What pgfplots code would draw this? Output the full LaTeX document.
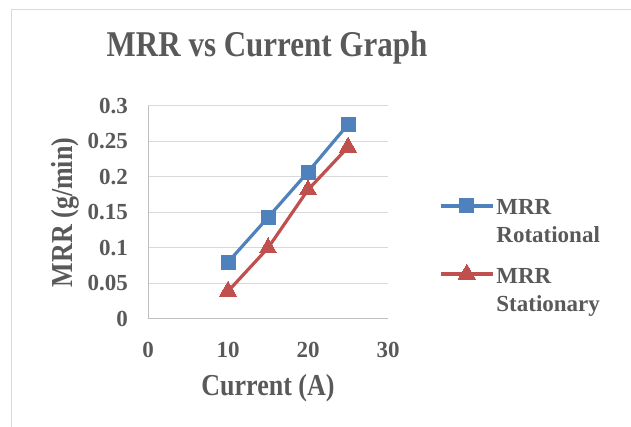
\documentclass[border=0pt]{standalone}
\usepackage{pgfplots}
\pgfplotsset{compat=1.18}
\usepackage{fontspec}
\setmainfont{Liberation Serif}

\definecolor{txtgray}{HTML}{595959}
\definecolor{gridgray}{HTML}{D9D9D9}
\definecolor{axisgray}{HTML}{BFBFBF}
\definecolor{framegray}{HTML}{D9D9D9}
\definecolor{rotblue}{HTML}{4F81BD}
\definecolor{statred}{HTML}{C0504D}

\pgfplotstableread{
x y
10 0.080
15 0.143
20 0.207
25 0.274
}\rotational
\pgfplotstableread{
x y
10 0.039
15 0.100
20 0.182
25 0.242
}\stationary

\newcommand{\tall}[1]{\scalebox{1}[1.17]{#1}}
\newcommand{\twoline}[2]{\begin{tabular}[t]{@{}l@{}}\textbf{#1}\\\textbf{#2}\end{tabular}}

\begin{document}
\begin{tikzpicture}[x=1pt,y=1pt]
\useasboundingbox (0,0) rectangle (631,427);
% outer chart frame
\draw[framegray, line width=1.2pt] (11.5,0) -- (11.5,417.5) -- (631,417.5);
\begin{axis}[
  at={(148pt,108pt)}, anchor=south west,
  scale only axis, width=240pt, height=213pt,
  xmin=0, xmax=30, ymin=0, ymax=0.3,
  clip=false,
  axis x line*=bottom, axis y line*=left,
  axis line style={draw=axisgray, line width=1pt, -},
  xtick={0,10,20,30},
  ytick={0,0.05,0.1,0.15,0.2,0.25,0.3},
  yticklabels={0,0.05,0.1,0.15,0.2,0.25,0.3},
  major tick length=0pt,
  ymajorgrids, grid style={gridgray, line width=1pt},
  /pgf/number format/assume math mode=true,
  tick label style={font=\fontsize{23}{26}\selectfont\bfseries, text=txtgray},
  yticklabel style={anchor=east, inner sep=0pt, xshift=-20pt},
  xticklabel style={anchor=center, inner sep=0pt, yshift=-31pt},
  title={\tall{MRR vs Current Graph}},
  title style={font=\fontsize{31}{36}\selectfont\bfseries, text=txtgray,
    at={(rel axis cs:0.496,1.202)}, anchor=base, inner sep=0pt},
  xlabel={\tall{Current (A)}},
  xlabel style={font=\fontsize{26}{30}\selectfont\bfseries, text=txtgray,
    at={(rel axis cs:0.5,-0.357)}, anchor=base, inner sep=0pt},
  ylabel={\tall{MRR (g/min)}},
  ylabel style={font=\fontsize{26}{30}\selectfont\bfseries, text=txtgray,
    at={(rel axis cs:-0.346,0.5)}, anchor=center, inner sep=0pt},
  legend style={at={(rel axis cs:1.2,0.6)}, anchor=north west,
    draw=none, fill=none, row sep=43pt,
    font=\fontsize{23}{28}\selectfont\bfseries, text=txtgray},
  legend cell align=left,
  legend image code/.code={
    \draw[#1, mark=none] (0pt,0pt) -- (52pt,0pt);
    \draw[#1, only marks] plot coordinates {(26pt,0pt)};
  },
]
\addplot[rotblue, line width=3.2pt, mark=square*, mark size=7pt,
  mark options={solid, line width=0pt}] table {\rotational};
\addlegendentry{\twoline{MRR}{Rotational}}
\addplot[statred, line width=3.2pt, mark=triangle*, mark size=10pt,
  mark options={solid, line width=0pt}] table {\stationary};
\addlegendentry{\twoline{MRR}{Stationary}}
\end{axis}
\end{tikzpicture}
\end{document}
